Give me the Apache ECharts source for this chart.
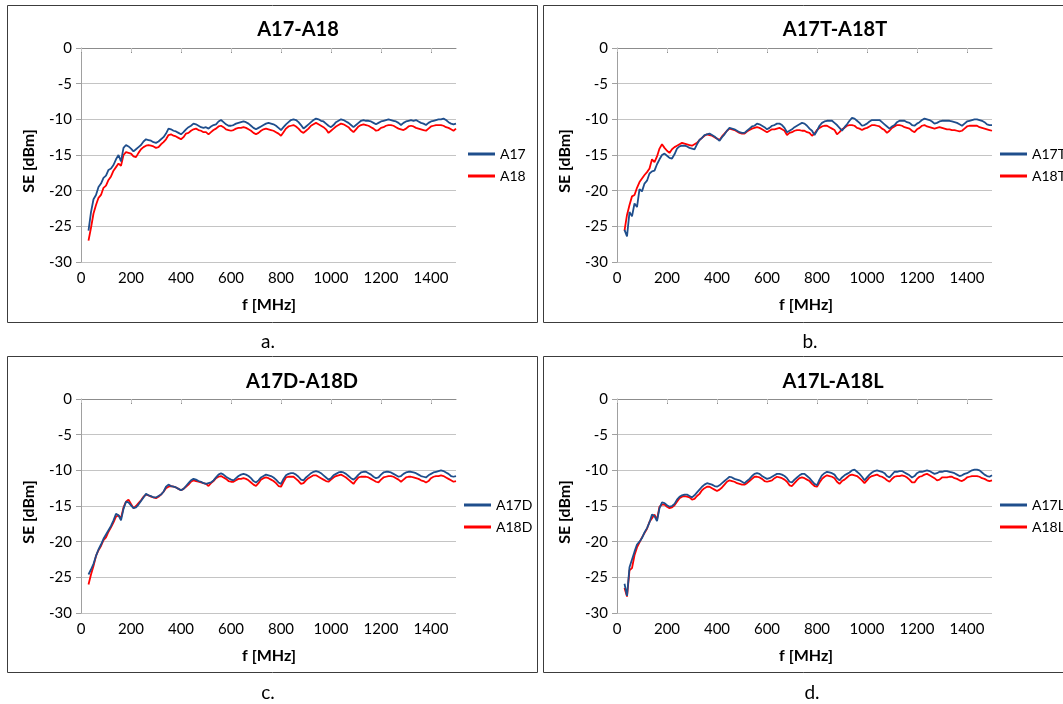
<!DOCTYPE html>
<html><head><meta charset="utf-8">
<script src="https://cdn.jsdelivr.net/npm/echarts@6/dist/echarts.min.js"></script>
<style>html,body{margin:0;padding:0;background:#fff}#c{width:1063px;height:704px}</style>
</head><body><div id="c"></div>
<script>
// ---------- data ----------
const freq = [30,40,50,60,70,80,90,100,110,120,
130,140,150,160,170,180,190,200,210,220,
230,240,250,260,270,280,290,300,310,320,
330,340,350,360,370,380,390,400,410,420,
430,440,450,460,470,480,490,500,510,520,
530,540,550,560,570,580,590,600,610,620,
630,640,650,660,670,680,690,700,710,720,
730,740,750,760,770,780,790,800,810,820,
830,840,850,860,870,880,890,900,910,920,
930,940,950,960,970,980,990,1000,1010,1020,
1030,1040,1050,1060,1070,1080,1090,1100,1110,1120,
1130,1140,1150,1160,1170,1180,1190,1200,1210,1220,
1230,1240,1250,1260,1270,1280,1290,1300,1310,1320,
1330,1340,1350,1360,1370,1380,1390,1400,1410,1420,
1430,1440,1450,1460,1470,1480,1490,1500];

const xTicks = [0,200,400,600,800,1000,1200,1400];
const panelTitles = ['A17-A18','A17T-A18T','A17D-A18D','A17L-A18L'];
const panelLetters = ['a.','b.','c.','d.'];
const blueNames = ['A17','A17T','A17D','A17L'];
const redNames = ['A18','A18T','A18D','A18L'];
const xName = 'f [MHz]';
const yName = 'SE [dBm]';

const A17 = [-25.6,-23.0,-21.2,-20.6,-19.5,-19.0,-18.2,-17.9,-17.1,-16.9,
-16.4,-15.6,-15.0,-15.9,-14.0,-13.6,-13.8,-14.1,-14.5,-14.2,
-13.9,-13.6,-13.1,-12.8,-12.9,-13.0,-13.2,-13.3,-13.1,-12.8,
-12.5,-12.0,-11.3,-11.4,-11.6,-11.7,-11.9,-12.1,-11.8,-11.4,
-11.1,-10.9,-10.6,-10.7,-10.9,-11.1,-11.2,-11.1,-11.3,-11.0,
-10.8,-10.7,-10.3,-10.1,-10.4,-10.7,-10.9,-10.9,-10.8,-10.6,
-10.5,-10.4,-10.3,-10.4,-10.6,-10.9,-11.2,-11.4,-11.2,-11.0,
-10.8,-10.6,-10.5,-10.6,-10.7,-10.9,-11.2,-11.5,-11.1,-10.7,
-10.4,-10.1,-10.0,-10.1,-10.4,-10.8,-11.3,-11.0,-10.7,-10.4,
-10.1,-9.9,-10.0,-10.2,-10.3,-10.6,-10.9,-11.1,-10.8,-10.4,
-10.2,-10.0,-10.1,-10.3,-10.5,-10.8,-11.1,-10.8,-10.5,-10.2,
-10.1,-10.2,-10.2,-10.3,-10.5,-10.7,-10.5,-10.3,-10.2,-10.1,
-10.0,-10.1,-10.2,-10.3,-10.5,-10.8,-10.5,-10.3,-10.2,-10.1,
-10.2,-10.1,-10.3,-10.5,-10.6,-10.8,-10.5,-10.3,-10.2,-10.1,
-10.0,-10.0,-9.9,-10.1,-10.4,-10.6,-10.7,-10.6];

const A18 = [-27.0,-25.2,-23.2,-22.0,-21.0,-20.6,-19.6,-19.3,-18.5,-18.0,
-17.2,-16.7,-16.2,-16.5,-15.0,-14.6,-14.7,-14.8,-15.2,-15.3,
-14.7,-14.2,-13.9,-13.7,-13.6,-13.7,-13.8,-14.0,-13.9,-13.5,
-13.2,-12.8,-12.2,-12.1,-12.3,-12.4,-12.6,-12.8,-12.5,-12.0,
-11.9,-11.6,-11.4,-11.3,-11.5,-11.6,-11.8,-11.8,-12.1,-11.8,
-11.5,-11.3,-11.0,-10.9,-11.1,-11.4,-11.5,-11.6,-11.5,-11.3,
-11.2,-11.2,-11.1,-11.2,-11.4,-11.6,-11.9,-12.1,-11.9,-11.6,
-11.4,-11.3,-11.4,-11.5,-11.6,-11.8,-12.0,-12.3,-11.8,-11.3,
-11.0,-10.9,-10.8,-11.0,-11.3,-11.7,-11.9,-11.6,-11.3,-10.9,
-10.7,-10.5,-10.7,-10.9,-11.1,-11.4,-11.9,-11.6,-11.3,-11.0,
-10.8,-10.6,-10.7,-10.9,-11.1,-11.5,-11.8,-11.4,-11.0,-10.8,
-10.7,-10.8,-10.9,-11.1,-11.3,-11.6,-11.5,-11.2,-11.1,-10.9,
-10.8,-10.8,-10.9,-11.1,-11.3,-11.4,-11.5,-11.3,-11.0,-10.9,
-11.0,-11.2,-11.3,-11.4,-11.5,-11.6,-11.3,-11.0,-10.9,-10.8,
-10.8,-10.8,-10.9,-11.1,-11.2,-11.4,-11.6,-11.3];

const A17T = [-25.5,-26.4,-23.0,-23.6,-21.8,-22.3,-19.8,-20.1,-19.0,-18.6,
-17.6,-17.3,-17.2,-16.3,-15.6,-15.0,-14.8,-15.1,-15.4,-15.5,
-14.9,-14.1,-13.8,-13.7,-13.7,-13.8,-14.0,-14.1,-14.2,-13.5,
-12.9,-12.6,-12.2,-12.1,-12.0,-12.2,-12.4,-12.7,-13.0,-12.5,
-12.1,-11.6,-11.2,-11.3,-11.4,-11.6,-11.8,-11.9,-11.9,-11.6,
-11.3,-11.0,-10.9,-10.6,-10.7,-10.9,-11.1,-11.4,-11.2,-10.9,
-10.8,-10.6,-10.6,-10.8,-11.2,-11.8,-11.6,-11.4,-11.1,-10.9,
-10.7,-10.5,-10.6,-10.9,-11.3,-11.6,-12.2,-11.6,-10.9,-10.5,
-10.3,-10.2,-10.2,-10.2,-10.5,-10.8,-11.2,-11.6,-11.1,-10.7,
-10.2,-9.8,-9.9,-10.2,-10.5,-10.9,-10.8,-10.6,-10.3,-10.1,
-10.1,-10.1,-10.1,-10.4,-10.7,-11.0,-11.3,-11.0,-10.8,-10.4,
-10.2,-10.2,-10.2,-10.4,-10.5,-10.8,-10.9,-10.6,-10.4,-10.1,
-9.9,-10.0,-10.1,-10.3,-10.6,-10.5,-10.3,-10.2,-10.2,-10.2,
-10.2,-10.3,-10.4,-10.5,-10.7,-10.9,-10.6,-10.3,-10.2,-10.1,
-10.0,-10.0,-10.1,-10.2,-10.4,-10.7,-10.8,-10.8];

const A18T = [-25.6,-23.4,-22.0,-20.8,-20.6,-19.6,-18.8,-18.3,-17.8,-17.4,
-16.9,-15.6,-16.0,-15.2,-14.1,-13.5,-14.0,-14.4,-14.7,-14.2,
-13.9,-13.7,-13.5,-13.3,-13.4,-13.5,-13.6,-13.7,-13.5,-13.3,
-12.9,-12.6,-12.3,-12.1,-12.2,-12.3,-12.5,-12.7,-12.9,-12.4,
-12.0,-11.6,-11.3,-11.4,-11.5,-11.7,-11.9,-12.0,-12.0,-11.7,
-11.5,-11.3,-11.2,-11.1,-11.2,-11.4,-11.6,-11.8,-11.6,-11.4,
-11.4,-11.3,-11.2,-11.4,-11.6,-12.2,-11.9,-11.8,-11.6,-11.5,
-11.5,-11.6,-11.6,-11.8,-11.9,-12.3,-12.0,-11.5,-11.2,-11.0,
-10.9,-10.9,-11.1,-11.3,-11.5,-12.1,-11.8,-11.4,-11.2,-10.9,
-10.8,-10.8,-10.9,-11.2,-11.3,-11.5,-11.3,-11.2,-11.0,-10.8,
-10.8,-10.9,-11.0,-11.3,-11.5,-11.9,-11.6,-11.2,-11.0,-10.8,
-10.8,-10.9,-11.1,-11.2,-11.3,-11.6,-11.8,-11.4,-11.2,-10.9,
-10.8,-11.0,-11.1,-11.2,-11.3,-11.2,-11.1,-11.2,-11.3,-11.4,
-11.4,-11.5,-11.5,-11.6,-11.7,-11.6,-11.3,-11.0,-10.9,-10.9,
-10.9,-10.9,-11.1,-11.2,-11.3,-11.4,-11.5,-11.6];

const A17D = [-24.6,-23.9,-23.1,-22.0,-21.1,-20.4,-19.6,-19.0,-18.4,-17.8,
-17.0,-16.1,-16.3,-17.0,-15.4,-14.4,-14.5,-14.9,-15.3,-15.2,
-14.8,-14.3,-13.8,-13.3,-13.5,-13.6,-13.8,-13.8,-13.6,-13.4,
-13.0,-12.3,-12.0,-12.2,-12.3,-12.4,-12.6,-12.8,-12.6,-12.2,
-11.8,-11.4,-11.2,-11.3,-11.5,-11.6,-11.8,-11.9,-11.8,-11.7,
-11.4,-11.0,-10.6,-10.4,-10.6,-10.9,-11.1,-11.3,-11.4,-11.1,
-10.8,-10.6,-10.5,-10.6,-10.8,-11.1,-11.5,-11.7,-11.4,-11.0,
-10.8,-10.6,-10.7,-10.8,-11.0,-11.3,-11.7,-11.9,-11.2,-10.7,
-10.5,-10.4,-10.4,-10.6,-10.9,-11.3,-11.4,-11.0,-10.7,-10.4,
-10.2,-10.1,-10.2,-10.4,-10.7,-11.0,-11.3,-11.1,-10.7,-10.5,
-10.3,-10.2,-10.3,-10.5,-10.8,-11.1,-11.3,-11.0,-10.6,-10.3,
-10.2,-10.2,-10.4,-10.6,-10.9,-11.1,-11.0,-10.6,-10.3,-10.2,
-10.2,-10.3,-10.5,-10.7,-10.9,-10.8,-10.5,-10.3,-10.2,-10.2,
-10.3,-10.4,-10.6,-10.8,-10.9,-11.0,-10.7,-10.5,-10.3,-10.2,
-10.1,-10.0,-10.1,-10.3,-10.5,-10.8,-10.9,-10.8];

const A18D = [-26.0,-24.6,-23.4,-22.0,-21.2,-20.6,-19.8,-19.4,-18.6,-18.0,
-17.3,-16.5,-16.3,-16.7,-15.2,-14.4,-14.1,-14.7,-15.3,-15.0,
-14.6,-14.2,-13.7,-13.4,-13.5,-13.7,-13.8,-13.9,-13.7,-13.4,
-13.0,-12.5,-12.3,-12.2,-12.3,-12.4,-12.6,-12.8,-12.6,-12.3,
-12.0,-11.6,-11.4,-11.5,-11.6,-11.7,-11.8,-11.9,-12.2,-11.8,
-11.5,-11.1,-10.9,-10.8,-11.0,-11.2,-11.5,-11.6,-11.6,-11.4,
-11.2,-11.2,-11.1,-11.2,-11.4,-11.7,-12.0,-12.2,-11.8,-11.3,
-11.1,-11.0,-11.1,-11.3,-11.5,-11.8,-12.2,-12.3,-11.6,-11.0,
-10.9,-10.9,-10.9,-11.2,-11.5,-11.9,-11.8,-11.4,-11.1,-10.9,
-10.7,-10.7,-10.9,-11.1,-11.3,-11.5,-11.6,-11.3,-11.0,-10.8,
-10.7,-10.6,-10.8,-11.0,-11.3,-11.6,-11.9,-11.4,-11.0,-10.9,
-10.9,-10.9,-11.0,-11.2,-11.4,-11.6,-11.7,-11.3,-11.0,-10.9,
-10.8,-10.8,-10.9,-11.1,-11.3,-11.6,-11.3,-11.0,-10.9,-10.9,
-11.0,-11.1,-11.2,-11.4,-11.5,-11.7,-11.5,-11.1,-10.9,-10.8,
-10.8,-10.7,-10.8,-11.0,-11.2,-11.4,-11.6,-11.5];

const A17L = [-25.9,-27.6,-23.6,-22.5,-21.4,-20.4,-20.0,-19.5,-18.7,-18.1,
-17.3,-16.2,-16.4,-17.1,-15.3,-14.5,-14.6,-14.9,-15.1,-15.0,
-14.7,-14.1,-13.7,-13.5,-13.4,-13.4,-13.6,-13.8,-13.5,-13.1,
-12.7,-12.3,-12.0,-11.8,-11.9,-12.0,-12.2,-12.3,-12.1,-11.8,
-11.5,-11.2,-10.9,-11.0,-11.2,-11.3,-11.4,-11.6,-11.8,-11.5,
-11.2,-10.8,-10.5,-10.4,-10.5,-10.8,-11.0,-11.2,-11.1,-10.9,
-10.7,-10.5,-10.5,-10.6,-10.8,-11.1,-11.6,-11.7,-11.3,-11.0,
-10.7,-10.5,-10.5,-10.8,-11.1,-11.5,-11.9,-12.1,-11.3,-10.7,
-10.4,-10.2,-10.3,-10.4,-10.6,-11.1,-11.4,-11.0,-10.7,-10.5,
-10.3,-10.0,-9.9,-10.2,-10.5,-10.9,-11.4,-11.0,-10.6,-10.3,
-10.1,-10.0,-10.1,-10.2,-10.4,-10.8,-11.0,-10.6,-10.2,-10.2,
-10.1,-10.1,-10.3,-10.5,-10.7,-11.0,-10.8,-10.4,-10.2,-10.2,
-10.1,-10.0,-10.1,-10.3,-10.5,-10.4,-10.2,-10.2,-10.1,-10.1,
-10.2,-10.3,-10.4,-10.6,-10.8,-10.7,-10.5,-10.4,-10.2,-10.0,
-9.9,-9.9,-10.0,-10.3,-10.6,-10.8,-10.9,-10.7];

const A18L = [-26.5,-27.7,-24.0,-23.7,-21.9,-20.8,-20.1,-19.4,-18.8,-18.2,
-17.2,-16.7,-16.2,-16.9,-15.1,-14.8,-14.8,-15.1,-15.3,-15.2,
-14.9,-14.4,-13.9,-13.7,-13.6,-13.7,-13.8,-14.1,-14.0,-13.6,
-13.3,-12.8,-12.5,-12.3,-12.3,-12.5,-12.7,-12.9,-12.7,-12.4,
-12.0,-11.6,-11.4,-11.5,-11.6,-11.8,-11.9,-12.0,-12.0,-11.8,
-11.5,-11.2,-10.9,-10.9,-11.0,-11.2,-11.5,-11.6,-11.5,-11.4,
-11.1,-10.9,-11.0,-11.1,-11.3,-11.6,-12.1,-12.2,-11.8,-11.4,
-11.1,-11.0,-11.1,-11.3,-11.5,-11.9,-12.2,-12.3,-11.7,-11.2,
-10.9,-10.7,-10.8,-10.9,-11.1,-11.6,-11.9,-11.5,-11.3,-11.0,
-10.7,-10.6,-10.7,-10.8,-11.1,-11.4,-11.8,-11.4,-11.0,-10.8,
-10.7,-10.6,-10.8,-10.9,-11.1,-11.4,-11.6,-11.2,-10.9,-10.8,
-10.8,-10.7,-10.8,-11.0,-11.3,-11.7,-11.7,-11.2,-10.9,-10.8,
-10.6,-10.5,-10.7,-10.9,-11.1,-11.4,-11.3,-11.0,-11.0,-11.0,
-10.9,-10.9,-11.1,-11.2,-11.4,-11.5,-11.3,-11.0,-10.9,-10.8,
-10.8,-10.8,-10.9,-11.1,-11.2,-11.4,-11.5,-11.4];

const blueData = [A17, A17T, A17D, A17L];
const redData = [A18, A18T, A18D, A18L];

// ---------- layout ----------
const FONT = 'Lato, "Open Sans", sans-serif';
const BLUE = '#1f4e8c';
const RED = '#ff0000';
const GW = 375, GH = 214;
const panels = [
  {gl:81,  gt:48,  lx:468,  ly:147, tx:298, ty:30,  nx:269, ny:305, sx:29,  sy:161, px:268, py:342, fr:[7,5,530,317]},
  {gl:617, gt:48,  lx:1000, ly:147, tx:835, ty:30,  nx:806, ny:305, sx:565, sy:161, px:810, py:342, fr:[543,5,540,317]},
  {gl:81,  gt:399, lx:464,  ly:498, tx:302, ty:382, nx:269, ny:656, sx:29,  sy:512, px:268, py:693, fr:[7,356,530,316]},
  {gl:617, gt:399, lx:1000, ly:498, tx:833, ty:382, nx:806, ny:656, sx:565, sy:512, px:812, py:693, fr:[543,356,540,316]}
];

const grid = [], xAxis = [], yAxis = [], series = [], legend = [], graphic = [];
panels.forEach((p, i) => {
  grid.push({left:p.gl, top:p.gt, width:GW, height:GH});
  xAxis.push({
    gridIndex:i, type:'value', min:0, max:1500, interval:200,
    axisLine:{show:true, lineStyle:{color:'#8c8c8c', width:1}},
    axisTick:{show:true, length:5, customValues:xTicks, lineStyle:{color:'#8c8c8c'}},
    axisLabel:{customValues:xTicks, formatter:v => String(v), color:'#000', fontFamily:FONT, fontSize:15, margin:9},
    splitLine:{show:false}
  });
  xAxis.push({
    gridIndex:i, type:'value', min:0, max:1500, position:'top',
    axisLine:{show:false},
    axisTick:{show:true, inside:true, length:4, customValues:xTicks, lineStyle:{color:'#c4c4c4'}},
    axisLabel:{show:false}, splitLine:{show:false}
  });
  yAxis.push({
    gridIndex:i, type:'value', min:-30, max:0, interval:5,
    axisLine:{show:true, lineStyle:{color:'#a0a0a0', width:1}},
    axisTick:{show:true, length:5, lineStyle:{color:'#a0a0a0'}},
    axisLabel:{color:'#000', fontFamily:FONT, fontSize:15, margin:9},
    splitLine:{show:true, lineStyle:{color:'#c4c4c4', width:1}}
  });
  series.push({
    name:redNames[i], type:'line', xAxisIndex:2*i, yAxisIndex:i, color:RED,
    showSymbol:false, symbol:'none', lineStyle:{width:1.8, color:RED},
    data:freq.map((f,k)=>[f, redData[i][k]])
  });
  series.push({
    name:blueNames[i], type:'line', xAxisIndex:2*i, yAxisIndex:i, color:BLUE,
    showSymbol:false, symbol:'none', lineStyle:{width:1.8, color:BLUE},
    data:freq.map((f,k)=>[f, blueData[i][k]])
  });
  legend.push({
    data:[blueNames[i], redNames[i]], orient:'vertical', left:p.lx, top:p.ly, padding:0,
    icon:'rect', itemWidth:27, itemHeight:3, itemGap:8, itemTextGap:4,
    textStyle:{fontFamily:FONT, fontSize:14, color:'#000', lineHeight:14}
  });
  graphic.push({type:'rect', silent:true, shape:{x:p.fr[0]+0.5, y:p.fr[1]+0.5, width:p.fr[2], height:p.fr[3]},
    style:{fill:null, stroke:'#3c3c3c', lineWidth:1}});
  graphic.push({type:'text', silent:true, x:p.tx, y:p.ty,
    style:{text:panelTitles[i], font:'bold 20px ' + FONT, fill:'#000', align:'center', verticalAlign:'middle'}});
  graphic.push({type:'text', silent:true, x:p.nx, y:p.ny,
    style:{text:xName, font:'bold 16px ' + FONT, fill:'#000', align:'center', verticalAlign:'middle'}});
  graphic.push({type:'text', silent:true, x:p.sx, y:p.sy, rotation:Math.PI/2,
    style:{text:yName, font:'bold 16px ' + FONT, fill:'#000', align:'center', verticalAlign:'middle'}});
  graphic.push({type:'text', silent:true, x:p.px, y:p.py,
    style:{text:panelLetters[i], font:'19px ' + FONT, fill:'#000', align:'center', verticalAlign:'middle'}});
});

const chart = echarts.init(document.getElementById('c'), null, {renderer:'canvas'});
chart.setOption({
  animation:false,
  backgroundColor:'#fff',
  textStyle:{fontFamily:FONT},
  grid, xAxis, yAxis, series, legend, graphic
});
</script>
</body></html>
